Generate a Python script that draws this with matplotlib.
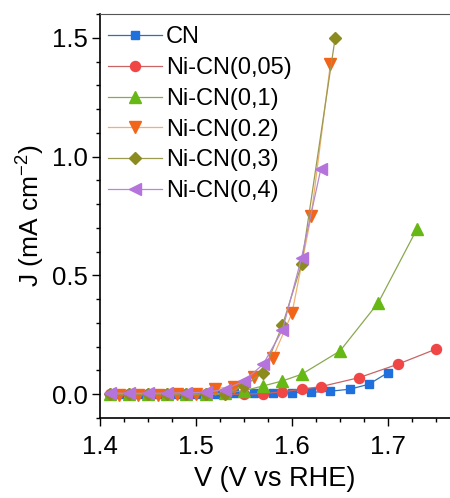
import matplotlib
matplotlib.use('Agg')
import matplotlib.pyplot as plt
from matplotlib.ticker import MultipleLocator

plt.rcParams['font.family'] = ['Liberation Sans', 'DejaVu Sans']
plt.rcParams['mathtext.fontset'] = 'custom'
plt.rcParams['mathtext.rm'] = 'Liberation Sans'
plt.rcParams['mathtext.it'] = 'Liberation Sans:italic'

# series (V vs RHE, mA cm-2)
cn_v = [1.42, 1.44, 1.46, 1.48, 1.50, 1.52, 1.54, 1.56, 1.58, 1.60, 1.62, 1.64, 1.66, 1.68, 1.70]
cn_j = [0.0, 0.0, 0.0, 0.0, 0.0, 0.002, 0.004, 0.006, 0.007, 0.007, 0.008, 0.013, 0.021, 0.042, 0.091]

n005_v = [1.41, 1.43, 1.45, 1.47, 1.49, 1.51, 1.53, 1.55, 1.57, 1.59, 1.61, 1.63, 1.67, 1.71, 1.75]
n005_j = [0.0, 0.0, 0.0, 0.0, 0.0, 0.0, 0.0, 0.0, 0.003, 0.01, 0.021, 0.032, 0.07, 0.126, 0.19]

n01_v = [1.41, 1.43, 1.45, 1.47, 1.49, 1.51, 1.53, 1.55, 1.57, 1.59, 1.61, 1.65, 1.69, 1.73]
n01_j = [0.0, 0.0, 0.0, 0.0, 0.0, 0.0, 0.005, 0.015, 0.035, 0.056, 0.084, 0.182, 0.386, 0.694]

n02_v = [1.42, 1.44, 1.46, 1.48, 1.50, 1.52, 1.54, 1.56, 1.58, 1.60, 1.62, 1.64]
n02_j = [-0.002, -0.002, -0.002, -0.001, 0.002, 0.024, 0.032, 0.074, 0.154, 0.341, 0.75, 1.389]

n03_v = [1.41, 1.43, 1.45, 1.47, 1.49, 1.51, 1.53, 1.55, 1.57, 1.59, 1.61, 1.645]
n03_j = [0.0, 0.0, 0.0, 0.0, 0.0, 0.0, 0.0, 0.035, 0.091, 0.29, 0.547, 1.5]

n04_v = [1.41, 1.43, 1.45, 1.47, 1.49, 1.51, 1.53, 1.55, 1.57, 1.59, 1.61, 1.63]
n04_j = [0.005, 0.004, 0.004, 0.005, 0.006, 0.008, 0.02, 0.056, 0.126, 0.27, 0.575, 0.947]

series = [
    ('CN', cn_v, cn_j, 's', '#1f6fdc', '#2f6fb8', 5.5),
    ('Ni-CN(0,05)', n005_v, n005_j, 'o', '#f04646', '#c86464', 7.2),
    ('Ni-CN(0,1)', n01_v, n01_j, '^', '#66b814', '#8aa850', 8.2),
    ('Ni-CN(0.2)', n02_v, n02_j, 'v', '#f26418', '#f0b070', 8.2),
    ('Ni-CN(0,3)', n03_v, n03_j, 'D', '#8c8c1e', '#9a9a50', 6.5),
    ('Ni-CN(0,4)', n04_v, n04_j, '<', '#b474dc', '#b48ad0', 8.2),
]

fig = plt.figure(figsize=(4.5, 4.98), dpi=100)
ax = fig.add_axes([0.2222, 0.1606, 0.7778, 0.8113])

for label, v, j, mk, mc, lc, ms in series:
    ax.plot(v, j, color=lc, lw=0.9, marker=mk, markersize=ms,
            markerfacecolor=mc, markeredgecolor=mc, label=label)

ax.set_xlim(1.4, 1.7646)
ax.set_ylim(-0.1, 1.6)
ax.xaxis.set_major_locator(MultipleLocator(0.1))
ax.xaxis.set_minor_locator(MultipleLocator(0.025))
ax.yaxis.set_major_locator(MultipleLocator(0.5))
ax.yaxis.set_minor_locator(MultipleLocator(0.1))
ax.tick_params(which='both', direction='out', labelsize=18.5, width=1, colors='black')
ax.tick_params(axis='y', pad=3)
ax.tick_params(axis='x', pad=6.5)
ax.tick_params(which='major', length=6)
ax.tick_params(which='minor', length=3)
ax.spines['right'].set_visible(False)
for s in ['left', 'bottom']:
    ax.spines[s].set_linewidth(1.2)
ax.spines['top'].set_linewidth(0.8)
ax.spines['top'].set_color('#555555')

ax.set_xlabel('V (V vs RHE)', fontsize=19.5, labelpad=5)
ax.set_ylabel('J (mA cm$^{-2}$)', fontsize=19, labelpad=3)

ax.legend(loc='upper left', bbox_to_anchor=(0, 0.989), frameon=False, fontsize=17,
          handlelength=2.3, handletextpad=0.15, labelspacing=0.37,
          borderaxespad=0, borderpad=0.34)

fig.savefig('out.png', dpi=100)
